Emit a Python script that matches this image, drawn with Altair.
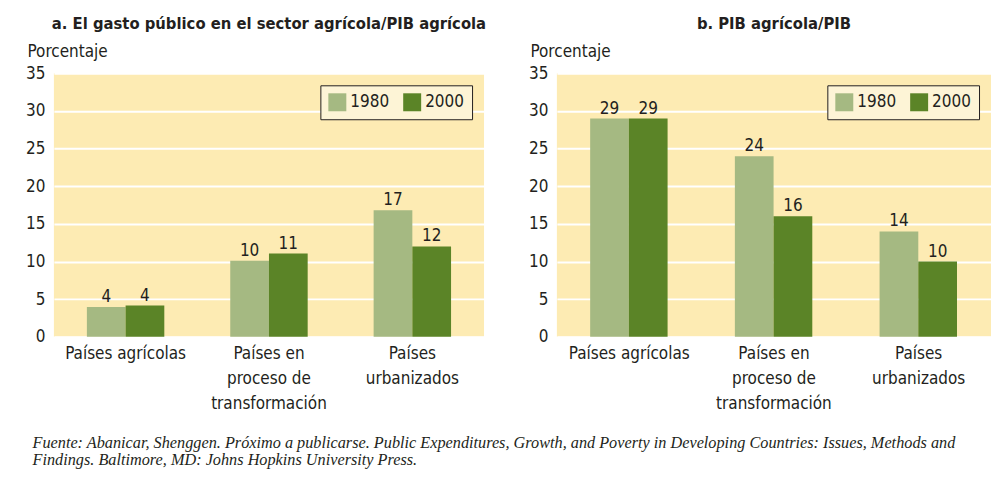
import altair as alt
import pandas as pd

categories = ["Países agrícolas", "Países en proceso de transformación", "Países urbanizados"]
cat_labels = ["Países agrícolas", "Países en|proceso de|transformación", "Países|urbanizados"]
years = ["1980", "2000"]

a_1980 = [3.95, 10.1, 16.8]
a_2000 = [4.15, 11.05, 12.0]
a_labels_1980 = ["4", "10", "17"]
a_labels_2000 = ["4", "11", "12"]

b_1980 = [29.0, 24.0, 14.0]
b_2000 = [29.0, 16.0, 10.0]
b_labels_1980 = ["29", "24", "14"]
b_labels_2000 = ["29", "16", "10"]

title_a = "a. El gasto público en el sector agrícola/PIB agrícola"
title_b = "b. PIB agrícola/PIB"
y_title = "Porcentaje"
source_lines = [
    "Fuente: Abanicar, Shenggen. Próximo a publicarse. Public Expenditures, Growth, and Poverty in Developing Countries: Issues, Methods and",
    "Findings. Baltimore, MD: Johns Hopkins University Press.",
]

FONT = "Liberation Sans Narrow, DejaVu Sans Condensed, sans-serif"
INK = "#231f20"
label_map = {c: l for c, l in zip(categories, cat_labels)}


def make_df(v80, v00, l80, l00):
    rows = []
    for i, c in enumerate(categories):
        rows.append({"cat": label_map[c], "year": "1980", "value": v80[i], "label": l80[i]})
        rows.append({"cat": label_map[c], "year": "2000", "value": v00[i], "label": l00[i]})
    return pd.DataFrame(rows)


def panel(df, title, width):
    x = alt.X(
        "cat:N",
        sort=cat_labels,
        scale=alt.Scale(paddingInner=0.46, paddingOuter=0.23),
        axis=alt.Axis(
            title=None,
            labelAngle=0,
            labelExpr="split(datum.label, '|')",
            labelFontSize=17,
            labelLineHeight=25,
            labelPadding=9,
            labelColor=INK,
            labelFont=FONT,
            domain=False,
            ticks=False,
            grid=False,
        ),
    )
    y = alt.Y(
        "value:Q",
        scale=alt.Scale(domain=[0, 35], nice=False),
        axis=alt.Axis(
            values=[0, 5, 10, 15, 20, 25, 30, 35],
            title=y_title,
            titleAngle=0,
            titleAlign="left",
            titleBaseline="alphabetic",
            titleX=-27,
            titleY=-17,
            titleFontSize=17,
            titleFontWeight="normal",
            titleFont=FONT,
            titleColor=INK,
            labelFontSize=17,
            labelFont=FONT,
            labelColor=INK,
            labelPadding=9,
            domain=False,
            ticks=False,
            grid=True,
            gridColor="white",
            gridWidth=2,
        ),
    )
    color = alt.Color(
        "year:N",
        scale=alt.Scale(domain=years, range=["#a5b982", "#5b8427"]),
        legend=alt.Legend(
            title=None,
            orient="top-right",
            offset=12,
            direction="horizontal",
            symbolType="square",
            symbolSize=324,
            symbolStrokeWidth=0,
            labelFontSize=17,
            labelFont=FONT,
            labelColor=INK,
            columnPadding=14,
            padding=8,
            fillColor="#fdf4d6",
            strokeColor="#231f20",
        ),
    )
    base = alt.Chart(df)
    bars = base.mark_bar().encode(x=x, xOffset=alt.XOffset("year:N", sort=years), y=y, color=color)
    text = base.mark_text(baseline="alphabetic", dy=-5, fontSize=17, font=FONT, color=INK).encode(
        x=x, xOffset=alt.XOffset("year:N", sort=years), y=y, text="label:N"
    )
    return alt.layer(bars, text).properties(
        width=width,
        height=264,
        title=alt.TitleParams(
            text=title, font=FONT, fontSize=16.5, fontWeight="bold", color=INK, anchor="middle", offset=10
        ),
    )


pa = panel(make_df(a_1980, a_2000, a_labels_1980, a_labels_2000), title_a, 431)
pb = panel(make_df(b_1980, b_2000, b_labels_1980, b_labels_2000), title_b, 435)

chart = (
    alt.hconcat(pa, pb, spacing=41)
    .resolve_scale(color="independent")
    .properties(
        background="white",
        padding={"left": 17, "top": 7, "right": 0, "bottom": 0},
        title=alt.TitleParams(
            text=source_lines,
            orient="bottom",
            anchor="start",
            font="Liberation Serif",
            fontStyle="italic",
            fontWeight="normal",
            fontSize=16.3,
            lineHeight=17.5,
            color=INK,
            offset=23,
            dx=7,
        ),
    )
    .configure_view(fill="#fdebb3", stroke=None)
)

chart.save("out.html", embed_options={"renderer": "svg", "actions": False})
